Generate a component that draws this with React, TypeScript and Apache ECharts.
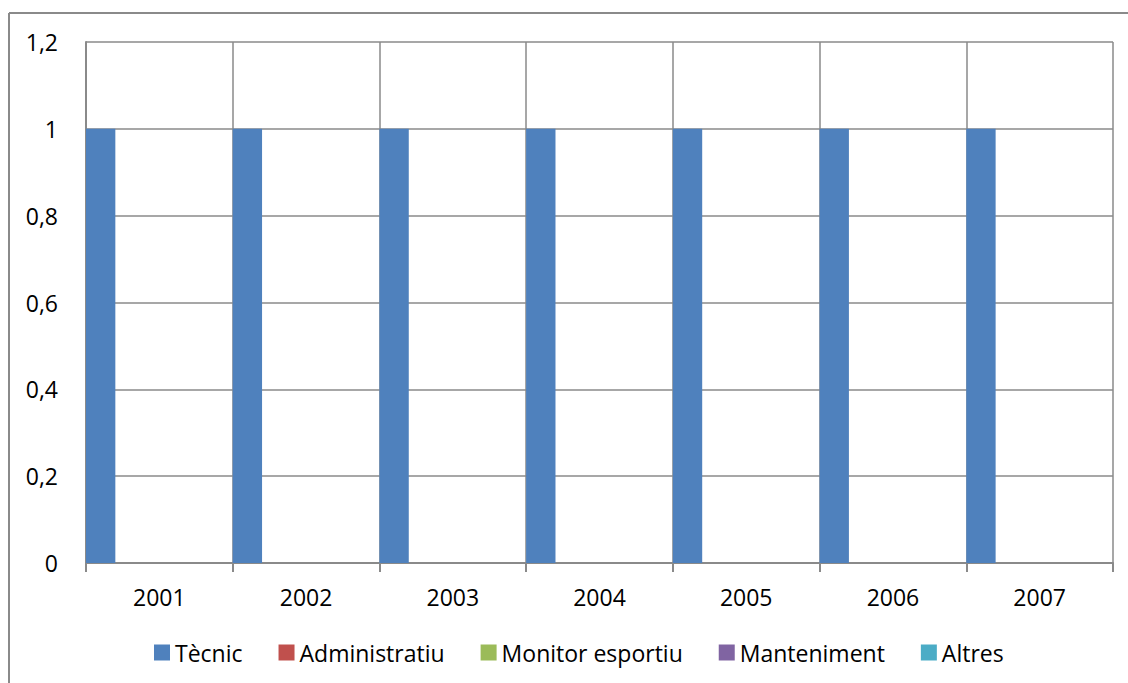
import React, { useEffect, useRef } from "react";
import * as echarts from "echarts";

const categories = ["2001", "2002", "2003", "2004", "2005", "2006", "2007"];
const tecnic = [1, 1, 1, 1, 1, 1, 1];
const administratiu = [0, 0, 0, 0, 0, 0, 0];
const monitorEsportiu = [0, 0, 0, 0, 0, 0, 0];
const manteniment = [0, 0, 0, 0, 0, 0, 0];
const altres = [0, 0, 0, 0, 0, 0, 0];
const seriesNames = ["Tècnic", "Administratiu", "Monitor esportiu", "Manteniment", "Altres"];
const seriesColors = ["#4F81BD", "#C0504D", "#9BBB59", "#8064A2", "#4BACC6"];
const seriesData = [tecnic, administratiu, monitorEsportiu, manteniment, altres];

const FONT = "'Open Sans', sans-serif";
const GRAY = "#8a8a8a";

export default function App() {
  const ref = useRef<HTMLDivElement>(null);
  useEffect(() => {
    if (!ref.current) return;
    const chart = echarts.init(ref.current, null, { renderer: "svg" });
    chart.setOption({
      animation: false,
      backgroundColor: "#ffffff",
      textStyle: { fontFamily: FONT },
      grid: { left: 86, top: 42, right: 15, bottom: 120, containLabel: false },
      legend: {
        left: 154,
        top: 641,
        padding: 0,
        itemWidth: 16,
        itemHeight: 16,
        itemGap: 36,
        icon: "rect",
        textStyle: { fontSize: 23, fontFamily: FONT, color: "#000" },
        data: seriesNames,
      },
      xAxis: {
        type: "category",
        data: categories,
        boundaryGap: true,
        axisLine: { show: true, lineStyle: { color: GRAY, width: 2 } },
        axisTick: { show: true, alignWithLabel: false, length: 9, lineStyle: { color: GRAY, width: 2 } },
        splitLine: { show: true, lineStyle: { color: GRAY, width: 1.5 } },
        axisLabel: { fontSize: 23, fontFamily: FONT, color: "#000", margin: 22 },
      },
      yAxis: {
        type: "value",
        min: 0,
        max: 1.2,
        interval: 0.2,
        axisLine: { show: true, lineStyle: { color: GRAY, width: 2 } },
        axisTick: { show: false },
        splitLine: { show: true, lineStyle: { color: GRAY, width: 1.5 } },
        axisLabel: {
          fontSize: 23,
          fontFamily: FONT,
          color: "#000",
          margin: 28,
          formatter: (v: number) => String(Math.round(v * 10) / 10).replace(".", ","),
        },
      },
      series: seriesNames.map((name, i) => ({
        name,
        type: "bar",
        data: seriesData[i],
        barGap: "0%",
        barCategoryGap: "0%",
        itemStyle: { color: seriesColors[i] },
      })),
      graphic: [
        { type: "line", shape: { x1: 9, y1: 13, x2: 1128, y2: 13 }, style: { stroke: GRAY, lineWidth: 2 } },
        { type: "line", shape: { x1: 9, y1: 13, x2: 9, y2: 683 }, style: { stroke: GRAY, lineWidth: 2 } },
      ],
    });
    return () => chart.dispose();
  }, []);
  return (
    <div
      ref={ref}
      style={{ position: "fixed", left: 0, top: 0, width: 1128, height: 683, background: "#fff" }}
    />
  );
}
